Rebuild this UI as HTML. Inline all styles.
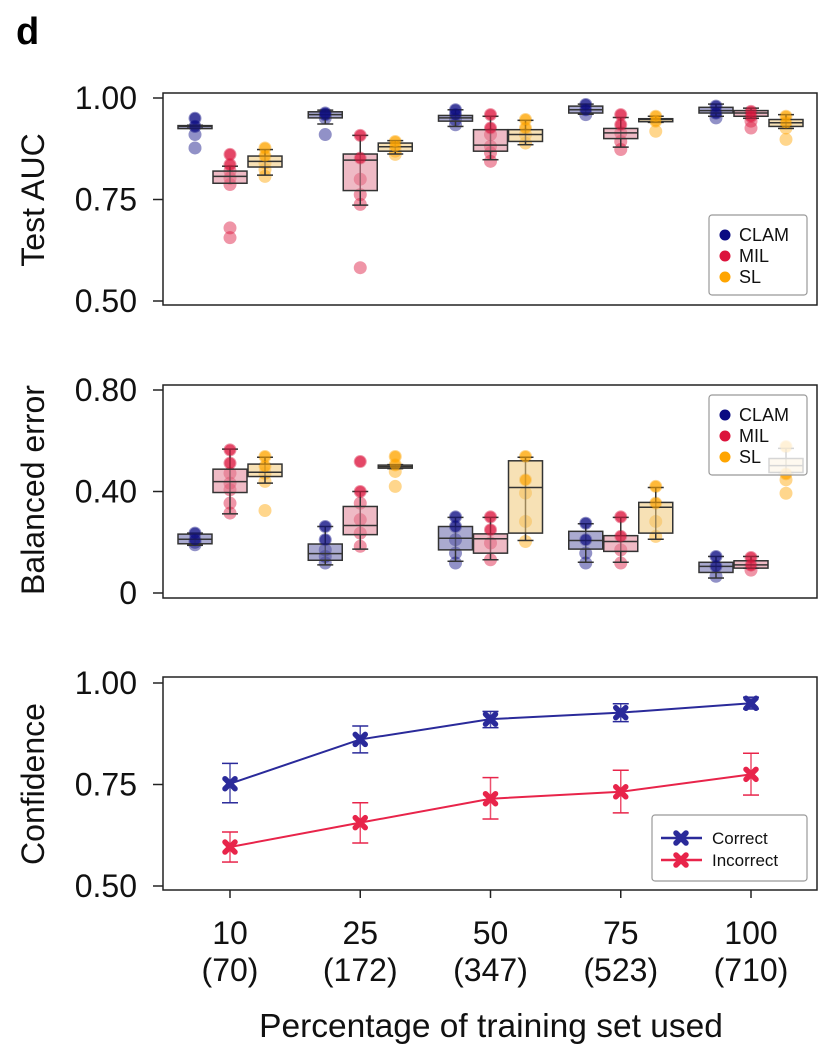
<!DOCTYPE html>
<html><head><meta charset="utf-8">
<style>
html,body{margin:0;padding:0;background:#fff;}
svg{display:block;font-family:"Liberation Sans",Arial,sans-serif;}
</style></head>
<body>
<svg id="chart" width="836" height="1062" viewBox="0 0 836 1062" xmlns="http://www.w3.org/2000/svg">
<text x="16" y="44" font-size="38" font-weight="bold">d</text>
<g id="p1"></g>
<g id="p2"></g>
<g id="p3"></g>
</svg>
<script>
// ---- data ----
const categories = ["10","25","50","75","100"];
const catCounts = ["(70)","(172)","(347)","(523)","(710)"];
const models = ["CLAM","MIL","SL"];
// AUC boxes: [whiskerLow, q1, median, q3, whiskerHigh]
const aucCLAM = [[0.928,0.929,0.93,0.932,0.933],[0.936,0.951,0.959,0.966,0.97],[0.93,0.943,0.951,0.957,0.971],[0.96,0.963,0.971,0.98,0.985],[0.955,0.963,0.969,0.977,0.985]];
const aucMIL = [[0.79,0.79,0.807,0.82,0.832],[0.736,0.772,0.847,0.862,0.908],[0.848,0.869,0.884,0.922,0.955],[0.879,0.9,0.914,0.925,0.952],[0.95,0.955,0.963,0.969,0.975]];
const aucSL = [[0.81,0.83,0.844,0.857,0.873],[0.862,0.869,0.88,0.889,0.895],[0.885,0.893,0.91,0.922,0.945],[0.94,0.943,0.947,0.949,0.955],[0.925,0.93,0.939,0.947,0.959]];
const aucPtsCLAM = [[0.95,0.93,0.91,0.877],[0.963,0.959,0.951,0.91],[0.971,0.959,0.947,0.934],[0.984,0.971,0.959],[0.98,0.963,0.951]];
const aucPtsMIL = [[0.861,0.836,0.82,0.803,0.787,0.68,0.656],[0.908,0.852,0.8,0.762,0.738,0.582],[0.959,0.926,0.91,0.881,0.865,0.844],[0.959,0.934,0.914,0.893,0.873],[0.967,0.955,0.943,0.926]];
const aucPtsSL = [[0.877,0.857,0.84,0.824,0.807],[0.893,0.881,0.869,0.861],[0.947,0.926,0.91,0.889],[0.955,0.943,0.918],[0.955,0.939,0.926,0.898]];
// Balanced error
const errCLAM = [[0.188,0.194,0.212,0.232,0.236],[0.111,0.129,0.155,0.193,0.262],[0.125,0.17,0.216,0.262,0.298],[0.121,0.173,0.207,0.243,0.273],[0.059,0.081,0.105,0.121,0.144]];
const errMIL = [[0.312,0.396,0.439,0.488,0.567],[0.173,0.23,0.266,0.341,0.4],[0.131,0.157,0.214,0.233,0.298],[0.121,0.164,0.203,0.226,0.298],[0.098,0.098,0.111,0.127,0.144]];
const errSL = [[0.433,0.459,0.476,0.508,0.535],[0.49,0.492,0.498,0.504,0.506],[0.207,0.236,0.416,0.521,0.535],[0.212,0.236,0.338,0.357,0.416],[0.475,0.475,0.502,0.53,0.57]];
const errPtsCLAM = [[0.236,0.21,0.19,0.2],[0.262,0.21,0.17,0.144,0.118],[0.3,0.262,0.21,0.157,0.118],[0.275,0.21,0.157,0.118],[0.144,0.105,0.066]];
const errPtsMIL = [[0.564,0.512,0.472,0.433,0.407,0.354,0.315],[0.518,0.4,0.354,0.289,0.236,0.184],[0.3,0.249,0.197,0.131],[0.3,0.223,0.17,0.118],[0.14,0.11,0.09]];
const errPtsSL = [[0.538,0.499,0.472,0.44,0.325],[0.538,0.505,0.479,0.42],[0.538,0.446,0.394,0.282,0.203],[0.42,0.354,0.282,0.223],[0.577,0.47,0.446,0.393]];
// Confidence
const confCorrect = [0.752,0.861,0.911,0.927,0.95];
const confCorrectLo = [0.705,0.828,0.89,0.905,0.936];
const confCorrectHi = [0.802,0.894,0.93,0.949,0.965];
const confIncorrect = [0.596,0.656,0.715,0.732,0.775];
const confIncorrectLo = [0.559,0.606,0.665,0.68,0.724];
const confIncorrectHi = [0.633,0.705,0.767,0.785,0.827];
const aucTicks = ["1.00","0.75","0.50"];
const errTicks = ["0.80","0.40","0"];
const confTicks = ["1.00","0.75","0.50"];

// ---- layout ----
const NS="http://www.w3.org/2000/svg";
const L=163,R=817;
const COL={CLAM:"#0b0b82",MIL:"#dc143c",SL:"#ffa500"};
const FILL={CLAM:"rgba(100,100,170,0.55)",MIL:"rgba(225,130,150,0.55)",SL:"rgba(240,200,120,0.55)"};
const xCat=i=>230+i*130.25;
const off=[-35,0,35];
function mk(p,tag,a,name,txt){const e=document.createElementNS(NS,tag);for(const k in a)e.setAttribute(k,a[k]);


if(txt!==undefined)e.textContent=txt;p.appendChild(e);return e;}
function yScale(top,bot,vTop,vBot){return v=>top+(vTop-v)/(vTop-vBot)*(bot-top);}

function frame(g,top,bot,ticks,tickVals,y,title,titleY){
  mk(g,"rect",{x:L,y:top,width:R-L,height:bot-top,fill:"none",stroke:"#222","stroke-width":1.5},"plot-frame");
  ticks.forEach((t,i)=>{const yy=y(tickVals[i]);
    mk(g,"line",{x1:L-10,x2:L,y1:yy,y2:yy,stroke:"#222","stroke-width":1.5},"y-tick");
    mk(g,"text",{x:137,y:yy+11,"font-size":32,"text-anchor":"end",fill:"#111"},"y-tick-label",t);});
  mk(g,"text",{x:0,y:0,"font-size":32,"text-anchor":"middle",fill:"#111",transform:`translate(44,${titleY}) rotate(-90)`},"y-axis-title",title);
}
function boxes(g,y,sets,pts){
  models.forEach((m,mi)=>{
    sets[mi].forEach((b,ci)=>{
      const cx=xCat(ci)+off[mi],w=34;
      pts[mi][ci].forEach(v=>{mk(g,"circle",{cx:cx,cy:y(v),r:6.5,fill:COL[m],"fill-opacity":0.45},"point-"+m.toLowerCase());});
      mk(g,"line",{x1:cx,x2:cx,y1:y(b[0]),y2:y(b[4]),stroke:"#333","stroke-width":1.5},"whisker-"+m.toLowerCase());
      mk(g,"line",{x1:cx-8,x2:cx+8,y1:y(b[0]),y2:y(b[0]),stroke:"#333","stroke-width":1.5},"whisker-cap");
      mk(g,"line",{x1:cx-8,x2:cx+8,y1:y(b[4]),y2:y(b[4]),stroke:"#333","stroke-width":1.5},"whisker-cap");
      const h=Math.max(3,y(b[1])-y(b[3]));
      mk(g,"rect",{x:cx-w/2,y:y(b[3]),width:w,height:h,fill:FILL[m],stroke:"#333","stroke-width":1.5},"box-"+m.toLowerCase()+"-"+categories[ci]);
      mk(g,"line",{x1:cx-w/2,x2:cx+w/2,y1:y(b[2]),y2:y(b[2]),stroke:"#333","stroke-width":1.5},"median-line");
      pts[mi][ci].slice(0,2).forEach(v=>{mk(g,"circle",{cx:cx,cy:y(v),r:5.5,fill:COL[m],"fill-opacity":0.6},"point-"+m.toLowerCase());});
    });
  });
}
function dotLegend(g,x,yTop,name){
  mk(g,"rect",{x:x,y:yTop,width:98,height:80,rx:3,fill:"rgba(255,255,255,0.8)",stroke:"#999","stroke-width":1.2},name);
  models.forEach((m,i)=>{const yy=yTop+20+i*21;
    mk(g,"circle",{cx:x+16,cy:yy,r:5.5,fill:COL[m]},"legend-marker-"+m.toLowerCase());
    mk(g,"text",{x:x+30,y:yy+6,"font-size":18,fill:"#111"},"legend-label-"+m.toLowerCase(),m);});
}

// Panel 1
const g1=document.getElementById("p1");
const y1=yScale(98,301,1.0,0.5);
frame(g1,93,305,aucTicks,[1.0,0.75,0.5],y1,"Test AUC",200);
boxes(g1,y1,[aucCLAM,aucMIL,aucSL],[aucPtsCLAM,aucPtsMIL,aucPtsSL]);
dotLegend(g1,709,215,"auc-legend");

// Panel 2
const g2=document.getElementById("p2");
const y2=yScale(390,593,0.8,0);
frame(g2,385,598,errTicks,[0.8,0.4,0],y2,"Balanced error",490);
boxes(g2,y2,[errCLAM,errMIL,errSL],[errPtsCLAM,errPtsMIL,errPtsSL]);
dotLegend(g2,709,395,"error-legend");

// Panel 3
const g3=document.getElementById("p3");
const y3=yScale(683,886,1.0,0.5);
frame(g3,677,890,confTicks,[1.0,0.75,0.5],y3,"Confidence",784);
function xMark(g,cx,cy,c,name){
  mk(g,"path",{d:`M${cx-5},${cy-5}L${cx+5},${cy+5}M${cx+5},${cy-5}L${cx-5},${cy+5}`,stroke:c,"stroke-width":5.5,"stroke-linecap":"round"},name);
}
function series(vals,lo,hi,c,name){
  const pts=vals.map((v,i)=>`${xCat(i)},${y3(v)}`).join(" ");
  mk(g3,"polyline",{points:pts,fill:"none",stroke:c,"stroke-width":2},name+"-line");
  vals.forEach((v,i)=>{const x=xCat(i);
    mk(g3,"line",{x1:x,x2:x,y1:y3(lo[i]),y2:y3(hi[i]),stroke:c,"stroke-width":1.5,"stroke-opacity":0.8},name+"-error-bar");
    mk(g3,"line",{x1:x-8,x2:x+8,y1:y3(lo[i]),y2:y3(lo[i]),stroke:c,"stroke-width":1.5},name+"-error-cap");
    mk(g3,"line",{x1:x-8,x2:x+8,y1:y3(hi[i]),y2:y3(hi[i]),stroke:c,"stroke-width":1.5},name+"-error-cap");
    xMark(g3,x,y3(v),c,name+"-point");});
}
series(confCorrect,confCorrectLo,confCorrectHi,"#2a2a9a","correct");
series(confIncorrect,confIncorrectLo,confIncorrectHi,"#e8244a","incorrect");
mk(g3,"rect",{x:652,y:815,width:155,height:66,rx:3,fill:"#fff",stroke:"#999","stroke-width":1.2},"confidence-legend");
[["Correct","#2a2a9a",838],["Incorrect","#e8244a",860]].forEach(([t,c,yy])=>{
  mk(g3,"line",{x1:661,x2:702,y1:yy,y2:yy,stroke:c,"stroke-width":2.5},"legend-line-"+t.toLowerCase());
  xMark(g3,681,yy,c,"legend-marker-"+t.toLowerCase());
  mk(g3,"text",{x:712,y:yy+6,"font-size":17,fill:"#111"},"legend-label-"+t.toLowerCase(),t);});
categories.forEach((c,i)=>{const x=xCat(i);
  mk(g3,"line",{x1:x,x2:x,y1:890,y2:898,stroke:"#222","stroke-width":1.5},"x-tick");
  mk(g3,"text",{x:x,y:944,"font-size":32,"text-anchor":"middle",fill:"#111"},"x-tick-label",c);
  mk(g3,"text",{x:x,y:981,"font-size":32,"text-anchor":"middle",fill:"#111"},"x-tick-count",catCounts[i]);});
mk(g3,"text",{x:491,y:1037,"font-size":33.5,"text-anchor":"middle",fill:"#111"},"x-axis-title","Percentage of training set used");
</script>
</body></html>
